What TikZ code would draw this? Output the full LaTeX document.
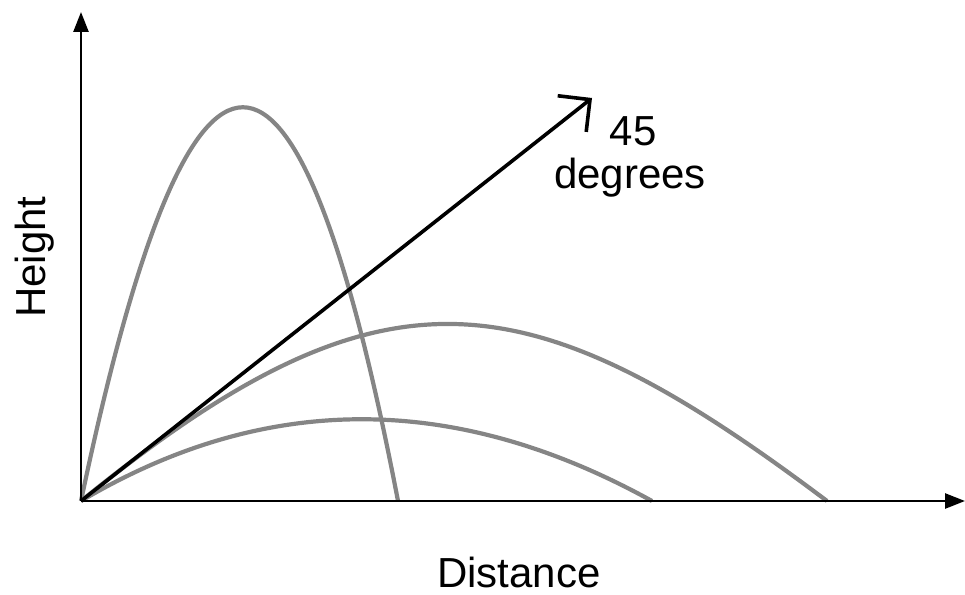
\documentclass[tikz,border=0pt]{standalone}
\usepackage{fontspec}
\setmainfont{Liberation Sans}
\usetikzlibrary{arrows.meta}
\begin{document}
\begin{tikzpicture}[x=1pt,y=-1pt,
  axis/.style={line width=2.6pt,-{Triangle[length=20pt,width=15pt]}},
  traj/.style={line width=4.2pt,color=black!48},
  dirarrow/.style={line width=3.6pt,-{Straight Barb[length=23pt,width=46pt,line width=3.6pt]}},
  lbl/.style={font=\fontsize{42}{48}\selectfont,inner sep=0pt}]
\useasboundingbox (0,0) rectangle (965,594);
\coordinate (O) at (81,501);
\coordinate (ytip) at (81,12);
\coordinate (xtip) at (965,501);
\coordinate (Ltall) at (398,501);
\coordinate (Llow) at (652,501);
\coordinate (Llong) at (827,501);
\coordinate (D) at (592,98);
% trajectories
\draw[traj] (O) .. controls (191,-24) and (297,-24) .. (Ltall);
\draw[traj] (O) .. controls (265,392) and (455,392) .. (Llow);
\draw[traj] (O) .. controls (382,257) and (524,273) .. (Llong);
% axes
\draw[axis] (O) -- (ytip);
\draw[axis] (O) -- (xtip);
% 45 degree arrow
\draw[dirarrow] (O) -- (D);
% labels
\node[lbl,anchor=base] (n45) at (633,145) {45};
\node[lbl,anchor=base] (ndeg) at (630,188) {degrees};
\node[lbl,anchor=base] (ndist) at (519,587) {Distance};
\node[lbl,anchor=base,rotate=90] (nh) at (45,257) {Height};
\end{tikzpicture}
\end{document}
